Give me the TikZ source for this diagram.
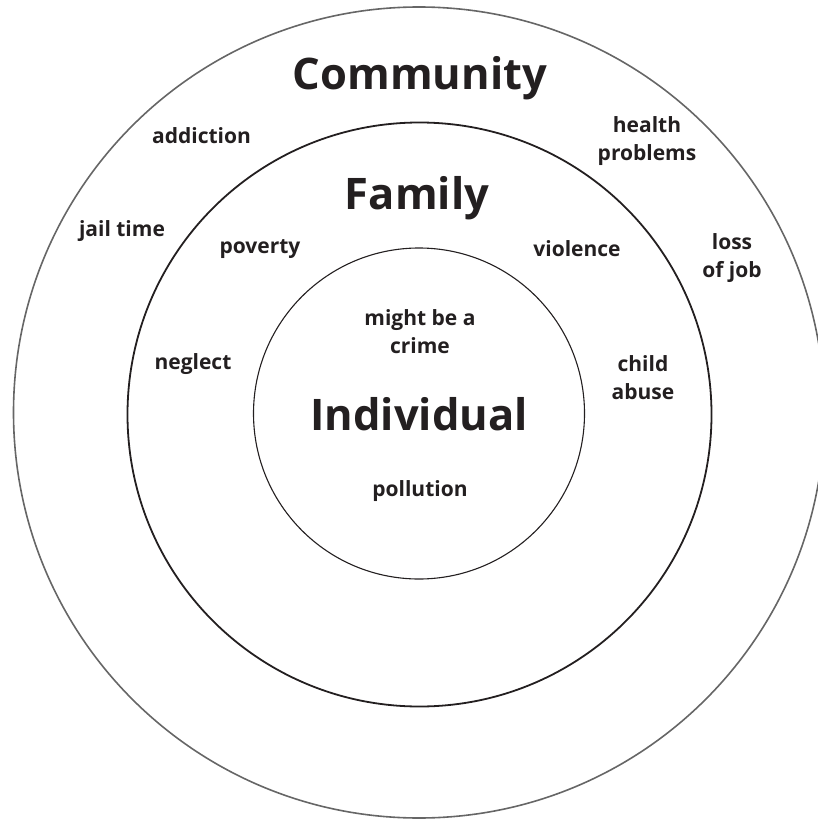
\documentclass[tikz,border=0pt]{standalone}
\usepackage{fontspec}
\setmainfont{Open Sans}
\usetikzlibrary{positioning}
\definecolor{inkdark}{HTML}{231F20}

\begin{document}
\begin{tikzpicture}[
    x=1pt, y=-1pt,
    ring/.style={draw, circle, inner sep=0pt},
    title/.style={font=\fontsize{43.5}{46}\selectfont\bfseries, text=inkdark, inner sep=0pt},
    item/.style={font=\fontsize{21}{28}\selectfont\bfseries, text=inkdark, align=center, inner sep=0pt}
]

\useasboundingbox (0,0) rectangle (817,821);

% Rings
\node[ring, draw=black!60, line width=1.6pt, minimum size=811pt] (outerring) at (419,412.5) {};
\node[ring, draw=inkdark, line width=1.8pt, minimum size=584pt] (middlering) at (419.5,414.5) {};
\node[ring, draw=inkdark, line width=1.1pt, minimum size=331pt] (innerring) at (419,413.5) {};

% Ring titles
\node[title] (community) at (420,78) {Community};
\node[title] (family) at (417,198) {Family};
\node[title] (individual) at (419,414) {Individual};

% Community items
\node[item] (addiction) at (201.5,136) {addiction};
\node[item] (jail) at (122,231) {jail time};
\node[item] (health) at (647,141) {health\\problems};
\node[item] (job) at (732,258) {loss\\of job};

% Family items
\node[item] (poverty) at (260,249) {poverty};
\node[item] (violence) at (577,249) {violence};
\node[item] (neglect) at (193,364) {neglect};
\node[item] (abuse) at (643,378) {child\\abuse};

% Individual items
\node[item] (crime) at (420,332) {might be a\\crime};
\node[item] (pollution) at (420,491) {pollution};

\end{tikzpicture}
\end{document}
